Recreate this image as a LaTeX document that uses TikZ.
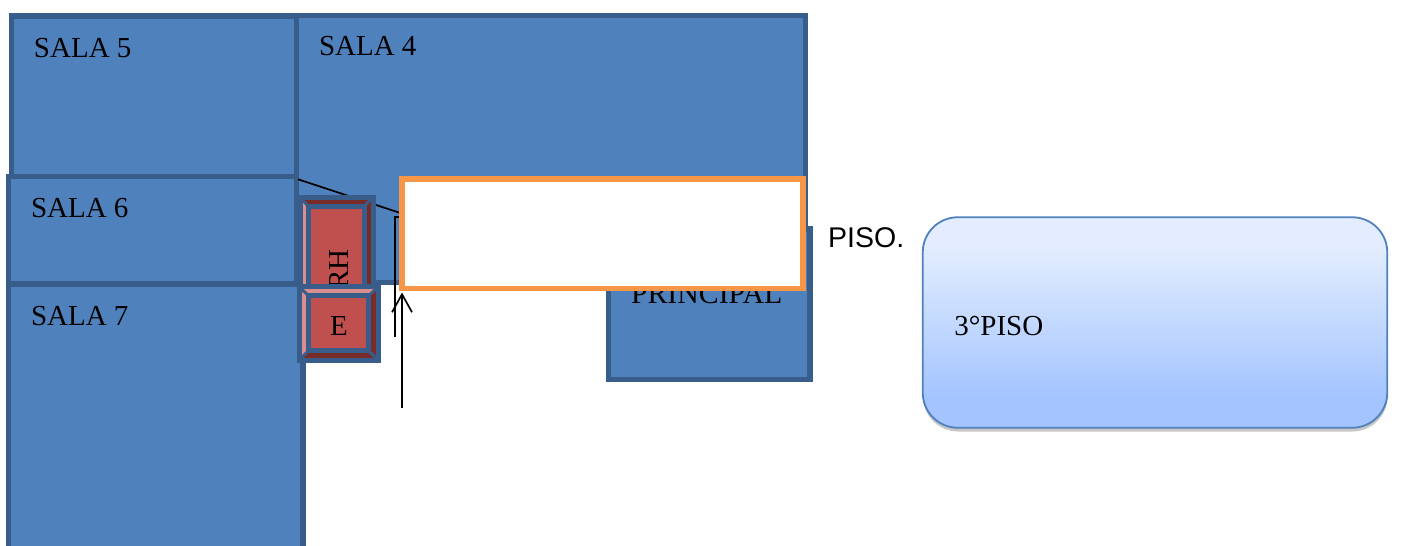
\documentclass[tikz,border=0pt]{standalone}
\usepackage{fontspec}
\setmainfont{Liberation Serif}
\newfontfamily\arialfont{Liberation Sans}
\usetikzlibrary{arrows.meta}
\definecolor{roomfill}{HTML}{4F81BD}
\definecolor{roomline}{HTML}{385D8A}
\definecolor{bevelface}{HTML}{C0504D}
\definecolor{bevellight}{HTML}{D98F8D}
\definecolor{beveldark}{HTML}{772C2A}
\definecolor{orangeline}{HTML}{F79646}
\definecolor{pisoline}{HTML}{4F81BD}
\definecolor{pisotop}{HTML}{E3EDFF}
\definecolor{pisolow}{HTML}{A3C4FF}
\pgfdeclareverticalshading{pisoshade}{100bp}{color(0bp)=(pisolow); color(25bp)=(pisolow); color(32bp)=(pisolow); color(68bp)=(pisotop); color(75bp)=(pisotop); color(100bp)=(pisotop)}
\tikzset{
  room/.style={draw=roomline,fill=roomfill,line width=5.5pt,inner sep=0pt,outer sep=0pt,rectangle},
  label/.style={font=\fontsize{29}{33}\selectfont,anchor=base west,inner sep=0pt,outer sep=0pt,text=black},
  thinline/.style={line width=1.7pt,draw=black},
  bevelstroke/.style={draw=roomline,line width=5pt,line join=miter},
}
\begin{document}
\begin{tikzpicture}[x=1pt,y=-1pt]
\useasboundingbox (0,0) rectangle (1403,546);
% rooms
\node[room,minimum width=285pt,minimum height=160.5pt] (sala5) at (154,96.25) {};
\node[room,minimum width=509pt,minimum height=267pt] (sala4) at (551,149) {};
\node[room,minimum width=201.5pt,minimum height=150.5pt] (principal) at (709.25,304.25) {};
\node[room,minimum width=288pt,minimum height=107.5pt] (sala6) at (152.5,230.25) {};
\node[room,minimum width=294.5pt,minimum height=284pt] (sala7) at (155.75,426) {};
\node[label] (t5) at (34,57.3) {SALA 5};
\node[label] (t4) at (319,55.5) {SALA 4};
\node[label] (t6) at (31,217) {SALA 6};
\node[label] (t7) at (31,325) {SALA 7};
\node[label,font=\fontsize{29.8}{33}\selectfont] (tp) at (631,303.5) {PRINCIPAL};
% connectors behind the small rooms
\coordinate (diagA) at (298,179.3);
\coordinate (diagB) at (401,213.2);
\draw[thinline] (diagA) -- (diagB);
% RH bevel box
\fill[bevelface] (300,197) rectangle (373,350);
\fill[beveldark] (300,197) -- (373,197) -- (364,206.5) -- (308.5,206.5) -- cycle;
\fill[bevellight] (300,197) -- (308.5,206.5) -- (308.5,340) -- (300,350) -- cycle;
\fill[beveldark] (373,197) -- (364,206.5) -- (364,340) -- (373,350) -- cycle;
\draw[bevelstroke] (300,197) rectangle (373,350);
\draw[bevelstroke] (308.5,206.5) rectangle (364,340);
\draw[roomline,line width=3pt] (300,197) -- (308.5,206.5) (373,197) -- (364,206.5);
\node[label,rotate=90] (trh) at (348,289.6) {RH};
% E bevel box
\fill[bevelface] (299,286.5) rectangle (378.5,360);
\fill[bevellight] (299,286.5) -- (378.5,286.5) -- (368.5,295.8) -- (308.5,295.8) -- cycle;
\fill[bevellight] (299,286.5) -- (308.5,295.8) -- (308.5,350.8) -- (299,360) -- cycle;
\fill[beveldark] (378.5,286.5) -- (368.5,295.8) -- (368.5,350.8) -- (378.5,360) -- cycle;
\fill[beveldark] (299,360) -- (308.5,350.8) -- (368.5,350.8) -- (378.5,360) -- cycle;
\draw[bevelstroke] (299,286.5) rectangle (378.5,360);
\draw[bevelstroke] (308.5,295.8) rectangle (368.5,350.8);
\draw[roomline,line width=3pt] (299,286.5) -- (308.5,295.8) (378.5,286.5) -- (368.5,295.8) (299,360) -- (308.5,350.8) (378.5,360) -- (368.5,350.8);
\node[label] (te) at (330,335) {E};
% connectors in front of the blue rooms
\coordinate (brkA) at (395,336.7);
\coordinate (brkB) at (395,217.3);
\coordinate (brkC) at (401,217.3);
\draw[thinline] (brkA) -- (brkB) -- (brkC);
% white box
\node[draw=orangeline,fill=white,line width=5.5pt,rectangle,inner sep=0pt,outer sep=0pt,minimum width=401pt,minimum height=109.5pt] (blank) at (602.5,233.75) {};
\coordinate (arrowStart) at (402,408);
\coordinate (arrowEnd) at (402,292.5);
\draw[thinline,-{Straight Barb[length=18pt,width=20pt,line width=1.7pt]}] (arrowStart) -- (arrowEnd);
% right side
\node[font=\arialfont\fontsize{28.5}{33}\selectfont,anchor=base west,inner sep=0pt] (piso) at (828,247.3) {PISO.};
\fill[black!22,rounded corners=35pt] (923,221) rectangle (1387.5,431.5);
\node[draw=pisoline,shading=pisoshade,line width=1.8pt,rectangle,rounded corners=35pt,inner sep=0pt,outer sep=0pt,minimum width=464.5pt,minimum height=210.5pt] (piso3) at (1155,322.5) {};
\node[label] (t3) at (954.3,335) {3°PISO};
\end{tikzpicture}
\end{document}
